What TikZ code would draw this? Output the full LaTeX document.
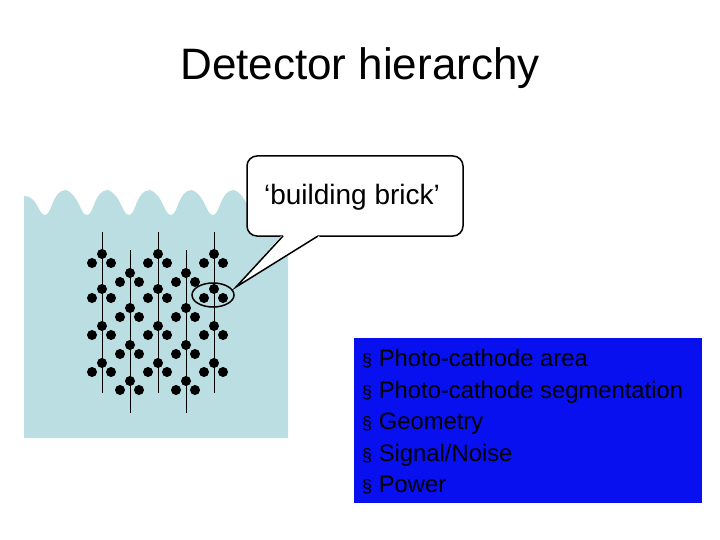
\documentclass[tikz,border=0pt]{standalone}
\usepackage{fontspec}
\usetikzlibrary{shapes.geometric}
\setmainfont{Liberation Sans}
\newcommand{\bul}{{\fontsize{18}{20}\selectfont§}}
\begin{document}
\begin{tikzpicture}[x=1pt,y=-1pt,
  dot/.style={circle,fill=black,inner sep=0pt,minimum size=10pt},
  strg/.style={line width=0.8pt}]
\useasboundingbox (0,0) rectangle (720,540);
\definecolor{water}{RGB}{187,222,226}
\definecolor{boxblue}{RGB}{8,16,240}
\node (title) at (360,68) {\fontsize{44}{52}\selectfont Detector hierarchy};
% water
\fill[water] (24,438) -- (24,196)
  \foreach \k in {0,...,5} { .. controls ({24+42*\k+14},{196}) and ({24+42*\k+14},{215}) .. ({24+42*\k+21},{215}) .. controls ({24+42*\k+28},{215}) and ({24+42*\k+28},{190}) .. ({24+42*\k+42},{190}) }
  -- (288,190) -- (288,438) -- cycle;
% strings
\foreach \x in {102,158,214} \draw[strg] (\x,232) -- (\x,393);
\foreach \x in {130,186} \draw[strg] (\x,250) -- (\x,413);
\foreach \x in {102,158,214} \foreach \y in {254,289,326,363} {
  \node[dot] at (\x,\y) {}; \node[dot] at (\x-10,\y+9) {}; \node[dot] at (\x+9,\y+9) {};}
\foreach \x in {130,186} \foreach \y in {273,308,345,381} {
  \node[dot] at (\x,\y) {}; \node[dot] at (\x-10,\y+9) {}; \node[dot] at (\x+9,\y+9) {};}
\node[draw,line width=1.5pt,ellipse,minimum width=42pt,minimum height=24pt,inner sep=0pt] (brick) at (213,295) {};
% callout
\coordinate (tip) at (236,287);
\draw[line width=1.5pt,fill=white,rounded corners=10pt] (318,236) -- (463,236) -- (463,156) -- (247,156) -- (247,236) -- (283,236);
\fill[white] (281,236) -- (tip) -- (320,236) -- cycle;
\draw[line width=1.5pt,line join=miter] (283,236) -- (tip) -- (318,236);
\node (bt) at (352,197) {\fontsize{28}{32}\selectfont ‘building brick’};
% box
\fill[boxblue] (354,338) rectangle (702,503);
\node[anchor=north west,align=left,inner sep=0pt,font=\fontsize{23.8}{31.6}\selectfont] (list) at (362,349)
 {\bul{} Photo-cathode area\\
 \bul{} Photo-cathode segmentation\\
 \bul{} Geometry\\
 \bul{} Signal/Noise\\
 \bul{} Power};
\end{tikzpicture}
\end{document}
